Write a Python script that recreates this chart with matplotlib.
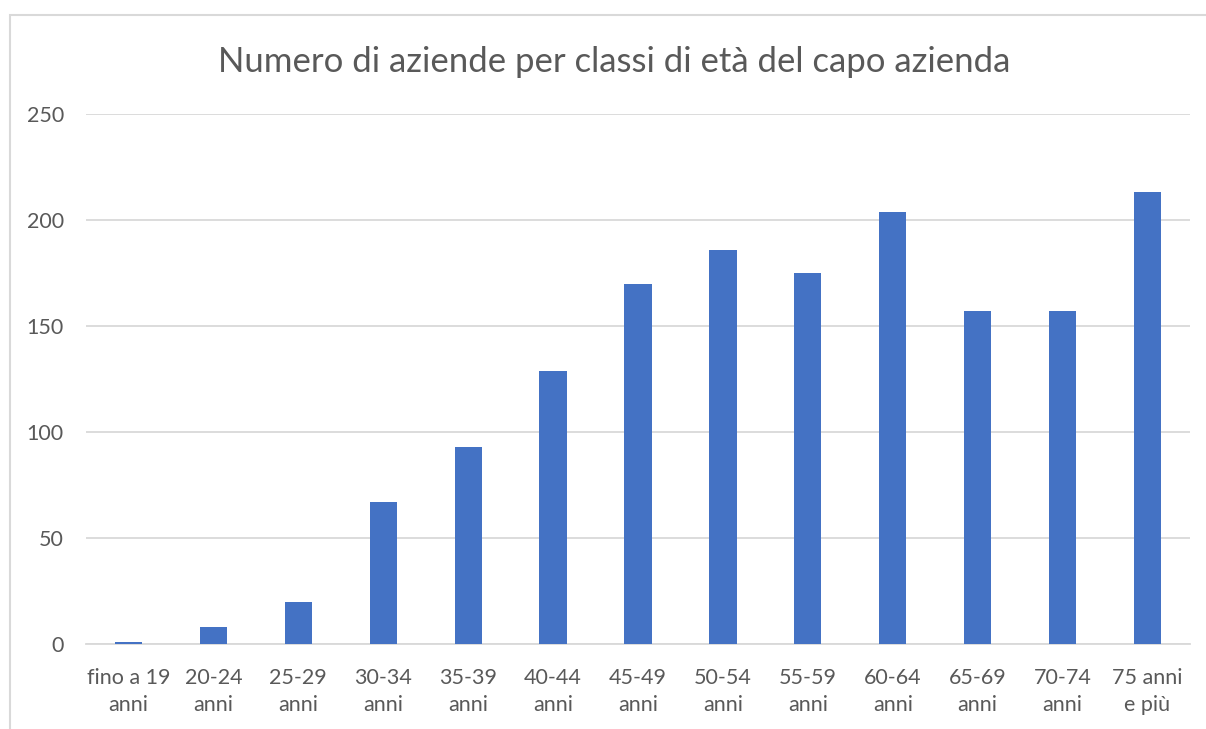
import matplotlib
matplotlib.use("Agg")
import matplotlib.pyplot as plt
from matplotlib.patches import Rectangle

categories = ["fino a 19\nanni", "20-24\nanni", "25-29\nanni", "30-34\nanni", "35-39\nanni",
              "40-44\nanni", "45-49\nanni", "50-54\nanni", "55-59\nanni", "60-64\nanni",
              "65-69\nanni", "70-74\nanni", "75 anni\ne più"]
values = [1, 8, 20, 67, 93, 129, 170, 186, 175, 204, 157, 157, 213]
yticks = [0, 50, 100, 150, 200, 250]
title = "Numero di aziende per classi di età del capo azienda"

plt.rcParams['font.family'] = ['Lato', 'DejaVu Sans']

W, H = 1206, 729
fig = plt.figure(figsize=(W/100, H/100), dpi=100)
fig.patch.set_facecolor("white")

# chart border (left/top visible, right/bottom cut off)
fig.add_artist(Rectangle((10/W, -0.1), 1.2, 1 - 15/H + 0.1, transform=fig.transFigure,
                         fill=False, edgecolor="#d9d9d9", linewidth=1.5))

ax = fig.add_axes([86/W, 1 - 644/H, (1190-86)/W, (644-114)/H])
x = range(len(categories))
ax.bar(x, values, width=0.32, color="#4472c4", zorder=3)
ax.set_xlim(-0.5, len(categories) - 0.5)
ax.set_ylim(0, 250)
ax.set_yticks(yticks)
ax.yaxis.grid(True, color="#d9d9d9", linewidth=1.3, zorder=0)
ax.set_xticks(list(x))
ax.set_xticklabels(categories, fontsize=15.5, color="#595959", linespacing=1.45)
ax.tick_params(axis='y', labelsize=15.5, labelcolor="#595959", length=0, pad=16)
ax.tick_params(axis='x', length=0, pad=17)
for s in ["top", "right", "left"]:
    ax.spines[s].set_visible(False)
ax.spines["bottom"].set_color("#d9d9d9")
ax.spines["bottom"].set_linewidth(1.3)

fig.text(614/W, 1 - 62/H, title, ha="center", va="center", fontsize=25, color="#595959")

fig.savefig("out.png", dpi=100)
